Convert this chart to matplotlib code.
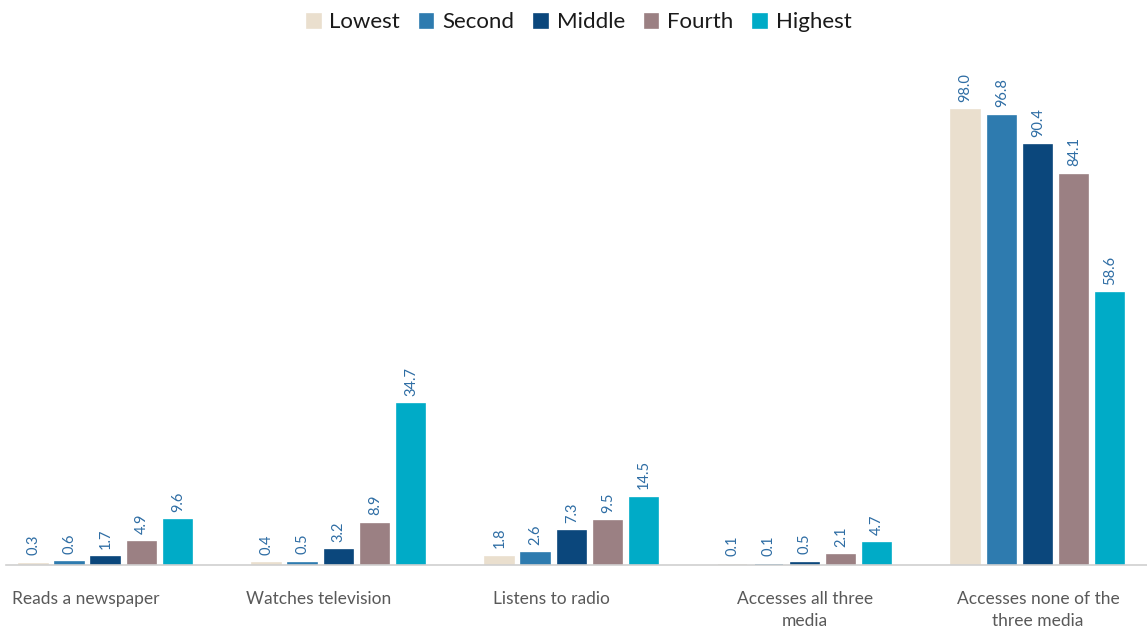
import numpy as np
import matplotlib
matplotlib.use("Agg")
import matplotlib.pyplot as plt
from matplotlib.transforms import ScaledTranslation

plt.rcParams['font.family'] = ['Lato', 'DejaVu Sans']

categories = ["Reads a newspaper", "Watches television", "Listens to radio",
              "Accesses all three\nmedia", "Accesses none of the\nthree media"]
quintiles = ["Lowest", "Second", "Middle", "Fourth", "Highest"]
lowest = [0.3, 0.4, 1.8, 0.1, 98.0]
second = [0.6, 0.5, 2.6, 0.1, 96.8]
middle = [1.7, 3.2, 7.3, 0.5, 90.4]
fourth = [4.9, 8.9, 9.5, 2.1, 84.1]
highest = [9.6, 34.7, 14.5, 4.7, 58.6]
series = [lowest, second, middle, fourth, highest]
colors = ['#EADFCE', '#2E7BAF', '#0B477C', '#9B8083', '#00ABC7']

fig = plt.figure(figsize=(11.47, 6.29), dpi=100)
ax = fig.add_axes([0.005, 0.1017, 0.995, 0.834])

x = np.arange(len(categories))
stride = 0.155
width = 0.122
for i, (vals, name, c) in enumerate(zip(series, quintiles, colors)):
    pos = x + (i - 2) * stride
    ax.bar(pos, vals, width, color=c, edgecolor=c, linewidth=1.2, label=name, zorder=2)
    for p, v in zip(pos, vals):
        ax.annotate(f"{v:.1f}", (p, v), xytext=(0, 6), textcoords='offset points',
                    rotation=90, ha='center', va='bottom', fontsize=10.5,
                    color='#2E6DA4')

ax.set_xlim(-0.429, 4.468)
ax.set_ylim(0, 113)
for s in ['top', 'right', 'left']:
    ax.spines[s].set_visible(False)
ax.spines['bottom'].set_color('#d0d0d0')
ax.spines['bottom'].set_linewidth(1.2)
ax.set_yticks([])
ax.set_xticks(x)
ax.set_xticklabels(categories, fontsize=12.5, color='#595959', linespacing=1.45)
ax.tick_params(axis='x', length=0, pad=19)
# single-line labels sit a little left of their group in the original
for lab in ax.get_xticklabels()[:3]:
    lab.set_transform(lab.get_transform() + ScaledTranslation(-0.2, 0, fig.dpi_scale_trans))

fig.legend(loc='upper center', bbox_to_anchor=(0.505, 1.012), ncol=5, frameon=False,
           fontsize=16, handlelength=0.6, handleheight=0.6, handletextpad=0.4,
           columnspacing=0.9, labelcolor='#1a1a1a')

fig.savefig("out.png", dpi=100)
